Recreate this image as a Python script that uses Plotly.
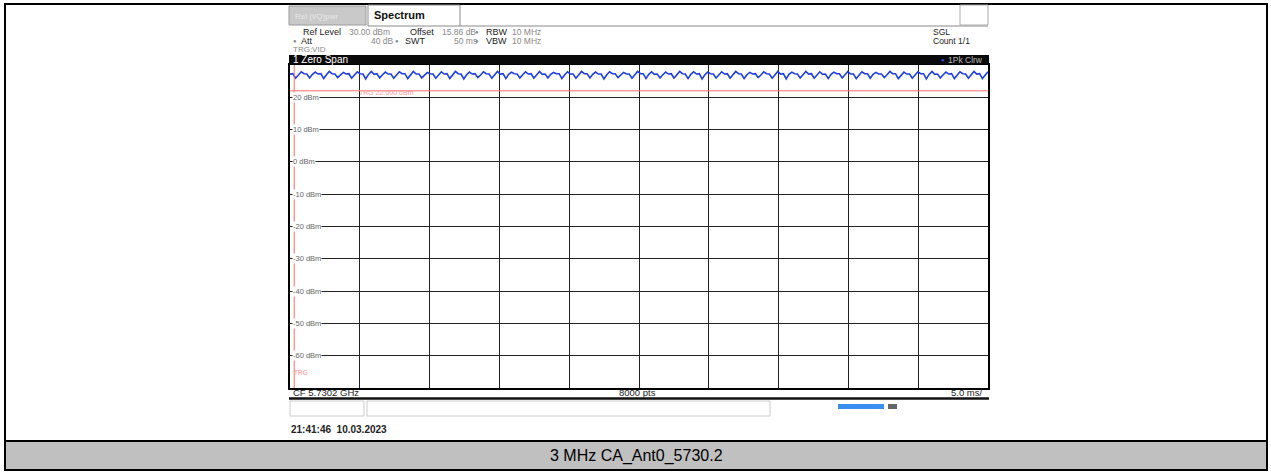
import numpy as np
import plotly.graph_objects as go

W, H = 1271, 472

# ---- data ----
sweep_ms = 50.0
y_ticks = [20, 10, 0, -10, -20, -30, -40, -50, -60]
y_tick_labels = ["20 dBm", "10 dBm", "0 dBm", "-10 dBm", "-20 dBm", "-30 dBm", "-40 dBm", "-50 dBm", "-60 dBm"]
trigger_level_dbm = 22.0
trigger_time_ms = 0.3
trace_dbm = [
    27.2,27.3,25.9,27.0,27.9, 27.3,27.2,26.0,27.1,27.8, 27.2,27.3,25.8,27.0,28.0, 27.3,27.2,26.1,26.9,27.7, 27.2,27.3,25.9,27.0,27.9,
    27.3,27.2,25.7,27.1,28.0, 27.1,27.3,26.0,27.0,27.8, 27.2,27.2,25.9,26.9,27.9, 27.3,27.3,25.8,27.1,28.0, 27.2,27.2,26.0,27.0,27.7,
    27.3,27.2,25.9,27.0,27.9, 27.2,27.3,25.8,27.1,28.0, 27.3,27.2,25.7,27.0,27.8, 27.2,27.3,26.1,26.9,27.9, 27.3,27.2,25.9,27.0,28.0,
    27.2,27.3,25.8,27.1,27.8, 27.3,27.2,26.0,27.0,27.9, 27.2,27.3,25.9,26.9,28.0, 27.1,27.2,26.0,27.1,27.7, 27.3,27.3,25.8,27.0,27.9,
    27.2,27.2,25.9,27.0,28.0, 27.3,27.3,26.0,27.1,27.8, 27.2,27.2,25.7,27.0,27.9, 27.3,27.3,26.1,26.9,27.7, 27.2,27.2,25.9,27.0,28.0,
    27.3,27.3,25.8,27.1,27.9, 27.1,27.2,26.0,27.0,27.8, 27.2,27.3,25.9,26.9,28.0, 27.3,27.2,25.8,27.1,27.9, 27.2,27.3,25.7,27.0,27.8,
    27.3,27.2,26.0,27.0,27.9, 27.2,27.3,25.9,27.1,28.0, 27.3,27.2,25.8,27.0,27.7, 27.2,27.3,26.1,26.9,27.9, 27.3,27.2,25.9,27.0,28.0,
    27.2,27.3,25.7,27.1,27.8, 27.3,27.2,26.0,27.0,28.0, 27.2,27.3,25.9,26.9,27.9, 27.1,27.2,25.8,27.1,27.8, 27.3,27.3,26.0,27.0,28.0,
    27.2,27.2,25.8,27.0,27.9, 27.3,27.3,25.9,27.1,27.7, 27.2,27.2,26.1,27.0,28.0, 27.3,27.3,25.8,26.9,27.8, 27.2,27.2,25.9,27.0,27.9,
    27.3,27.3,25.7,27.1,28.0, 27.1,27.2,26.0,27.0,27.8, 27.2,27.3,25.8,26.9,27.9, 27.3,27.2,25.9,27.1,28.0, 27.2,27.3,25.8,27.0,27.9,
]
caption = "3 MHz CA_Ant0_5730.2"

# ---- layout helpers (pixel -> paper) ----
def px(x): return x / W
def py(y): return 1 - y / H

PL, PR, PT, PB = 290, 988, 65, 388  # plot area in pixels

time_ms = np.linspace(0, sweep_ms, len(trace_dbm))

fig = go.Figure()
fig.add_trace(go.Scatter(x=time_ms, y=trace_dbm, mode="lines",
                         line=dict(color="#1e3ee6", width=1.6), hoverinfo="skip", showlegend=False))
fig.add_trace(go.Scatter(x=[0, sweep_ms], y=[trigger_level_dbm, trigger_level_dbm], mode="lines",
                         line=dict(color="#ff6b6b", width=1), hoverinfo="skip", showlegend=False))
fig.add_trace(go.Scatter(x=[trigger_time_ms, trigger_time_ms], y=[-70, 30], mode="lines",
                         line=dict(color="#ff6b6b", width=1), hoverinfo="skip", showlegend=False))

FONT = "Liberation Sans, Arial, sans-serif"

fig.update_layout(
    width=W, height=H, margin=dict(l=0, r=0, t=0, b=0),
    paper_bgcolor="white", plot_bgcolor="white",
    xaxis=dict(domain=[px(PL), px(PR)], range=[0, sweep_ms], dtick=5, tick0=0,
               showticklabels=False, ticks="", showgrid=True, gridcolor="#222", gridwidth=1,
               zeroline=False, showline=True, linecolor="black", linewidth=2, mirror=True),
    yaxis=dict(domain=[py(PB), py(PT)], range=[-70, 30], dtick=10, tick0=0,
               showticklabels=False, ticks="", showgrid=True, gridcolor="#222", gridwidth=1,
               zeroline=False, showline=True, linecolor="black", linewidth=2, mirror=True),
    font=dict(family=FONT),
)

shapes = []
def rect(x0, y0, x1, y1, fill=None, line=None, lw=1, layer="above"):
    shapes.append(dict(type="rect", xref="paper", yref="paper", x0=px(x0), x1=px(x1), y0=py(y1), y1=py(y0),
                       fillcolor=fill if fill else "rgba(0,0,0,0)",
                       line=dict(color=line if line else "rgba(0,0,0,0)", width=lw if line else 0),
                       layer=layer))
def hline(x0, x1, y, color, lw=1):
    shapes.append(dict(type="line", xref="paper", yref="paper", x0=px(x0), x1=px(x1), y0=py(y), y1=py(y),
                       line=dict(color=color, width=lw)))

# table: caption row
rect(5, 441, 1267, 470, fill="#c0c0c0", layer="below")
hline(5, 1267, 441, "black", 2)
rect(5, 4, 1267, 470, line="black", lw=2)

# tabs
rect(289, 6, 366, 25, fill="#c9c9c9", line="#9a9a9a")
rect(368, 5, 460, 26, fill="white", line="#8a8a8a")
hline(460, 988, 26, "#8a8a8a", 1)
rect(960, 5, 988, 25, fill="white", line="#aaaaaa")
# black header bar
rect(289, 55, 989, 64, fill="#0a0a0a", layer="above")
# below plot frame
hline(289, 989, 398.5, "#111", 2.5)
rect(290, 401, 364, 416, fill="white", line="#cccccc")
rect(367, 401, 770, 416, fill="white", line="#cccccc")
rect(838, 404, 884, 409, fill="#3b8ff0")
rect(888, 404, 897, 409, fill="#666")

fig.update_layout(shapes=shapes)

ann = []
def text(x, y, s, size=9, color="#333", bold=False, anchor="left", bg=None, fam=FONT):
    d = dict(xref="paper", yref="paper", x=px(x), y=py(y), text=("<b>%s</b>" % s) if bold else s,
             showarrow=False, xanchor=anchor, yanchor="middle",
             font=dict(size=size, color=color, family=fam))
    if bg:
        d["bgcolor"] = bg
        d["borderpad"] = 0
    ann.append(d)

text(372, 15, "Spectrum", 11, "#111", bold=True)
text(293, 16, "Rel (I/Q)pwr", 8, "#e8e8e8")
text(301, 32, "Ref Level", 9, "#222")
text(347, 32, "30.00 dBm", 8.5, "#888")
text(408, 32, "Offset", 9, "#222")
text(440, 32, "15.86 dB", 8.5, "#888")
text(473, 32, "●", 6, "#888")
text(484, 32, "RBW", 9, "#222")
text(510, 32, "10 MHz", 8.5, "#888")
text(291, 41, "●", 6, "#888")
text(299, 41, "Att", 9, "#222")
text(369, 41, "40 dB", 8.5, "#888")
text(393, 41, "●", 6, "#888")
text(403, 41, "SWT", 9, "#222")
text(452, 41, "50 ms", 8.5, "#888")
text(473, 41, "●", 6, "#888")
text(484, 41, "VBW", 9, "#222")
text(510, 41, "10 MHz", 8.5, "#888")
text(291, 49, "TRG:VID", 8, "#888")
text(931, 32, "SGL", 8.5, "#222")
text(931, 41, "Count 1/1", 8.5, "#222")
text(291, 59.5, "1 Zero Span", 10, "white")
text(939, 59.5, "●", 6, "#3050e0")
text(985, 59.5, "1Pk Clrw", 8.5, "#bbbbbb", anchor="right")
for v, lab in zip(y_ticks, y_tick_labels):
    yy = PT + (30 - v) / 100 * (PB - PT)
    text(292, yy, lab, 7.5, "#666", bg="white")
text(292, 372, "TRG", 6.5, "#ff8c8c")
text(357, 92, "TRG 22.000 dBm", 7, "#ff9a9a")
text(291, 392, "CF 5.7302 GHz", 9.5, "#222")
text(617, 392, "8000 pts", 9.5, "#222")
text(985, 392, "5.0 ms/", 9.5, "#222", anchor="right")
text(289, 429, "21:41:46&nbsp;&nbsp;10.03.2023", 10, "#222", bold=True)
ann.append(dict(xref="paper", yref="paper", x=px(636), y=py(456), text=caption, showarrow=False,
                xanchor="center", yanchor="middle", font=dict(size=16, color="black", family=FONT)))

fig.update_layout(annotations=ann)
fig.write_html("out.html", config={"displayModeBar": False},
               post_script="document.body.style.margin='0';document.body.style.overflow='hidden';")
